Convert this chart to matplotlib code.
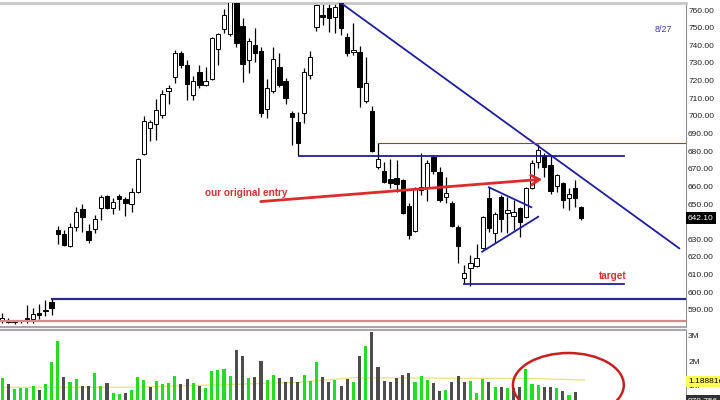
import numpy as np
import matplotlib
matplotlib.use("Agg")
import matplotlib.pyplot as plt
from matplotlib.patches import Ellipse
import matplotlib.transforms as mtransforms

plt.rcParams['font.family'] = ['Liberation Sans', 'DejaVu Sans']

# ---------------- DATA ---------------- #
opens = [584.5, 584.0, 583.0, 583.5, 585.5, 585.0, 588.5, 589.5, 594.6, 635.3,
         633.0, 626.0, 637.0, 647.0, 634.5, 636.0, 648.0, 654.5, 648.0, 654.5,
         653.0, 650.0, 657.0, 678.5, 693.0, 695.5, 700.5, 714.0, 722.0, 735.5,
         729.0, 712.0, 725.0, 717.5, 721.0, 738.0, 749.0, 746.5, 765.5, 751.0,
         731.7, 740.0, 737.0, 704.0, 714.0, 727.7, 720.0, 701.6, 696.5, 701.6,
         723.0, 750.5, 757.0, 761.0, 756.0, 764.0, 745.0, 736.0, 736.0, 708.5,
         703.0, 671.0, 668.7, 664.0, 664.8, 663.6, 649.0, 634.7, 658.0, 659.0,
         676.7, 668.0, 654.0, 650.4, 637.0, 608.0, 613.7, 615.0, 625.0, 653.6,
         633.6, 654.0, 645.0, 643.0, 647.8, 642.7, 659.0, 673.8, 677.8, 672.0,
         660.2, 662.0, 653.4, 659.0, 648.3]
highs = [588.0, 585.5, 584.0, 584.5, 593.0, 591.0, 593.3, 595.5, 596.7, 637.5,
         635.3, 639.0, 648.3, 650.0, 638.7, 643.8, 655.0, 655.0, 653.4, 655.5,
         654.0, 659.0, 676.0, 700.0, 697.5, 709.5, 714.6, 717.5, 737.3, 736.8,
         731.7, 722.6, 728.8, 727.7, 744.5, 747.0, 760.6, 767.0, 767.0, 755.5,
         744.0, 749.8, 739.0, 721.0, 739.0, 735.6, 721.5, 702.5, 702.0, 727.0,
         736.8, 767.0, 767.0, 767.0, 767.0, 767.0, 747.0, 752.6, 739.6, 733.4,
         705.6, 684.6, 673.8, 675.5, 675.0, 664.0, 650.6, 659.5, 679.0, 675.0,
         677.8, 671.0, 665.3, 651.5, 638.0, 615.4, 621.0, 627.3, 643.0, 659.7,
         645.5, 655.0, 654.0, 652.3, 648.3, 659.5, 675.0, 684.0, 679.0, 677.8,
         667.0, 662.5, 659.0, 663.6, 649.0]
lows = [582.5, 582.5, 582.0, 582.5, 582.5, 582.5, 585.0, 586.5, 587.0, 627.3,
        626.2, 625.5, 635.0, 634.0, 628.0, 633.6, 641.0, 647.0, 644.4, 646.5,
        643.0, 645.5, 656.0, 678.0, 686.0, 686.5, 698.8, 706.7, 718.6, 727.0,
        709.0, 709.0, 715.8, 717.0, 720.5, 728.8, 747.0, 745.5, 739.0, 719.2,
        724.3, 730.5, 699.3, 698.8, 713.0, 716.3, 707.0, 683.5, 677.0, 696.0,
        720.9, 748.0, 751.5, 747.5, 747.0, 745.8, 734.0, 734.5, 705.0, 707.3,
        679.5, 670.0, 661.9, 659.0, 656.8, 644.5, 630.0, 634.0, 655.0, 651.7,
        667.0, 651.0, 650.6, 637.0, 616.6, 604.7, 603.5, 614.3, 624.5, 634.2,
        627.9, 634.2, 633.6, 635.3, 631.3, 642.0, 658.5, 670.4, 665.3, 655.7,
        657.0, 647.8, 646.6, 648.3, 641.0]
closes = [585.3, 583.2, 583.5, 584.0, 584.8, 587.5, 587.3, 590.2, 590.8, 633.0,
          627.0, 637.0, 645.5, 642.5, 629.5, 641.5, 654.0, 647.5, 651.0, 653.0,
          650.6, 657.0, 675.5, 697.0, 696.3, 703.5, 712.5, 716.0, 735.5, 729.0,
          718.0, 720.0, 717.5, 720.0, 744.0, 746.5, 757.0, 764.5, 741.5, 729.5,
          742.4, 735.6, 701.6, 716.0, 732.0, 717.5, 710.0, 699.5, 684.5, 725.0,
          733.5, 763.0, 756.0, 755.5, 761.5, 750.0, 735.5, 737.5, 716.5, 718.5,
          680.0, 675.5, 662.5, 662.0, 661.5, 645.0, 632.5, 659.0, 659.7, 673.3,
          668.7, 652.3, 656.0, 637.6, 626.0, 611.0, 616.6, 619.5, 642.7, 636.3,
          644.4, 641.5, 646.5, 645.5, 639.8, 659.0, 673.3, 680.6, 671.0, 657.6,
          666.5, 652.3, 655.7, 653.4, 642.1]
# volume in millions
volume = [1.33, 1.07, 0.88, 0.91, 0.93, 0.99, 0.84, 1.07, 1.97, 2.80,
          1.35, 1.17, 1.27, 1.01, 0.99, 1.53, 0.99, 1.11, 0.71, 0.68,
          0.73, 0.83, 1.37, 1.24, 0.95, 1.20, 1.08, 1.13, 1.41, 1.07,
          1.27, 1.13, 1.00, 0.93, 1.60, 1.64, 1.67, 1.39, 2.43, 2.21,
          1.33, 1.35, 2.00, 1.24, 1.44, 1.31, 1.15, 1.37, 1.17, 1.44,
          1.21, 1.95, 1.35, 1.17, 1.24, 1.01, 1.27, 1.17, 2.21, 2.61,
          3.17, 1.77, 1.20, 1.15, 1.33, 1.44, 1.53, 1.17, 1.41, 1.23,
          1.11, 0.81, 0.84, 1.17, 1.41, 1.15, 1.20, 0.71, 1.28, 1.17,
          0.96, 0.95, 0.91, 0.91, 0.95, 1.67, 1.07, 1.04, 0.97, 0.95,
          0.91, 0.80, 0.63, 0.77, 0.30]
# volume moving average, read at a few bars
vol_ma_bar = [0, 21, 38, 48, 57, 75, 86, 94.5]
vol_ma_val = [0.95, 0.95, 1.07, 1.15, 1.33, 1.31, 1.30, 1.24]

price_ticks = list(range(590, 770, 10))
vol_ticks = [1, 2, 3]
vol_tick_labels = ["1M", "2M", "3M"]
last_price = 642.10
vol_ma_last = "1.18881e"

# drawn trendlines (bar index, price)
down_trend = ([54.3, 109.9], [765.7, 624.9])
neck_line = ([48.1, 100.9], [677.2, 677.2])
resist_line = ([61.0, 111.5], [684.8, 684.8])
support_line = ([8.0, 111.5], [596.2, 596.2])
floor_line = ([-1, 111.5], [583.9, 583.9])
target_line = ([75.0, 100.9], [604.5, 604.5])
tri_upper = ([79.0, 85.9], [659.5, 648.2])
tri_lower = ([77.9, 87.0], [623.0, 642.8])
entry_from = (41.5, 651.3)
entry_to = (88.1, 664.2)

# ---------------- PLOT ---------------- #
fig = plt.figure(figsize=(7.2, 4.0), dpi=100)
ax = fig.add_axes([0, 0.1825, 0.9528, 0.81])
axv = fig.add_axes([0, 0, 0.9528, 0.175])

x = np.arange(len(closes))
o = np.array(opens)
c = np.array(closes)
up = c >= o

ax.vlines(x, lows, highs, color="black", lw=0.9, zorder=2)
bottoms = np.minimum(o, c)
heights = np.maximum(np.abs(c - o), 0.5)
ax.bar(x[up], heights[up], bottom=bottoms[up], width=0.7,
       facecolor="white", edgecolor="black", lw=0.7, zorder=3)
ax.bar(x[~up], heights[~up], bottom=bottoms[~up], width=0.7,
       facecolor="black", edgecolor="black", lw=0.7, zorder=3)

blue = "#1e1e9c"
ax.plot(*down_trend, color=blue, lw=1.3, zorder=4)
ax.plot(*neck_line, color=blue, lw=1.3, zorder=4)
ax.plot(*support_line, color="#2a2a8a", lw=1.6, zorder=4)
ax.plot(*target_line, color=blue, lw=1.3, zorder=4)
ax.plot(*tri_upper, color=blue, lw=1.3, zorder=4)
ax.plot(*tri_lower, color=blue, lw=1.3, zorder=4)
ax.plot(*resist_line, color="#c42a2a", lw=0.8, zorder=4)
ax.plot(*floor_line, color="#d88a86", lw=1.6, zorder=4)

ax.annotate("", xy=entry_to, xytext=entry_from,
            arrowprops=dict(arrowstyle="->,head_length=0.6,head_width=0.35",
                            color="#dc2c2c", lw=2.0), zorder=5)
ax.text(32.9, 656.3, "our original entry", color="#d43030", fontsize=7.2,
        fontweight="bold", ha="left", va="center")
ax.text(99.1, 609.2, "target", color="#d43030", fontsize=7.2,
        fontweight="bold", ha="center", va="center")
ax.text(107.3, 749.2, "8/27", color="#3a3aa0", fontsize=6.5, ha="center", va="center")

ax.set_xlim(-0.37, 111.0)
ax.set_ylim(580.3, 764.0)
ax.yaxis.tick_right()
ax.set_yticks(price_ticks)
ax.set_yticklabels([f"{t:.2f}" for t in price_ticks], fontsize=6, color="#202020")
ax.tick_params(axis="y", length=0, pad=1.5)
ax.set_xticks([])
ax.spines["left"].set_visible(False)
ax.spines["top"].set_color("#c8c8c8")
ax.spines["top"].set_linewidth(2)
ax.spines["bottom"].set_color("#a8a8a8")
ax.spines["bottom"].set_linewidth(1.5)
ax.spines["right"].set_color("#909090")
ax.spines["right"].set_linewidth(0.8)

trans = mtransforms.blended_transform_factory(ax.transAxes, ax.transData)
ax.text(1.003, last_price, f"{last_price:.2f}", transform=trans, fontsize=6,
        color="white", ha="left", va="center", clip_on=False, zorder=10,
        bbox=dict(boxstyle="square,pad=0.3", facecolor="black", edgecolor="none"))

# volume panel
vol = np.array(volume)
vol_up = np.r_[True, c[1:] >= c[:-1]]
axv.plot(vol_ma_bar, vol_ma_val, color="#ece27a", lw=0.9, zorder=1)
axv.bar(x[vol_up], vol[vol_up], width=0.5, color="#22dd22", zorder=2)
axv.bar(x[~vol_up], vol[~vol_up], width=0.5, color="#4d4d4d", zorder=2)
axv.add_patch(Ellipse((91.9, 1.04), 18.0, 2.56, fill=False,
                      edgecolor="#c82020", lw=1.8, zorder=5))
axv.set_xlim(-0.37, 111.0)
axv.set_ylim(0.44, 3.24)
axv.yaxis.tick_right()
axv.set_yticks(vol_ticks)
axv.set_yticklabels(vol_tick_labels, fontsize=6, color="#202020")
axv.tick_params(axis="y", length=0, pad=1.5)
axv.set_xticks([])
axv.spines["left"].set_visible(False)
axv.spines["bottom"].set_visible(False)
axv.spines["top"].set_color("#a8a8a8")
axv.spines["top"].set_linewidth(1.5)
axv.spines["right"].set_color("#909090")
axv.spines["right"].set_linewidth(0.8)

transv = mtransforms.blended_transform_factory(axv.transAxes, axv.transData)
axv.text(1.003, 1.19, vol_ma_last, transform=transv, fontsize=6,
         color="black", ha="left", va="center", clip_on=False, zorder=10,
         bbox=dict(boxstyle="square,pad=0.25", facecolor="#ffff50", edgecolor="none"))
axv.text(1.003, 0.40, "978,756", transform=transv, fontsize=6,
         color="white", ha="left", va="center", clip_on=False, zorder=10,
         bbox=dict(boxstyle="square,pad=0.25", facecolor="#303030", edgecolor="none"))

fig.savefig("out.png", dpi=100)
